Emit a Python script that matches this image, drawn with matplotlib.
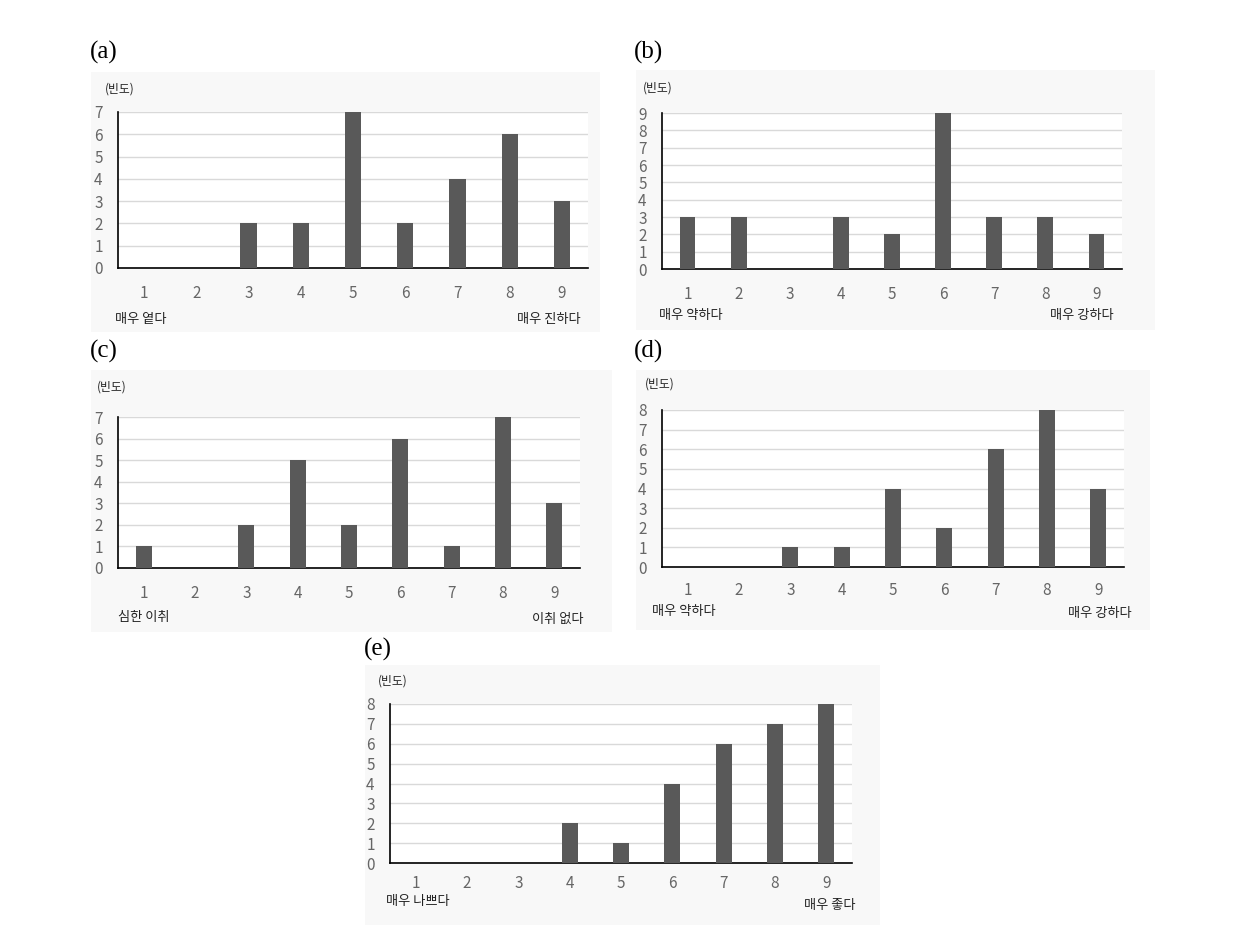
import matplotlib
matplotlib.use("Agg")
import matplotlib.pyplot as plt
from matplotlib.patches import Rectangle

plt.rcParams['font.family'] = ['Noto Sans CJK KR', 'DejaVu Sans']

W, H = 1245, 932

# data (frequency of each score 1..9)
scores = [1, 2, 3, 4, 5, 6, 7, 8, 9]
freq_a = [0, 0, 2, 2, 7, 2, 4, 6, 3]
freq_b = [3, 3, 0, 3, 2, 9, 3, 3, 2]
freq_c = [1, 0, 2, 5, 2, 6, 1, 7, 3]
freq_d = [0, 0, 1, 1, 4, 2, 6, 8, 4]
freq_e = [0, 0, 0, 2, 1, 4, 6, 7, 8]

panel_names = ["(a)", "(b)", "(c)", "(d)", "(e)"]
low_labels = ["매우 옅다", "매우 약하다", "심한 이취", "매우 약하다", "매우 나쁘다"]
high_labels = ["매우 진하다", "매우 강하다", "이취 없다", "매우 강하다", "매우 좋다"]
y_label = "(빈도)"

# layout in pixels: axes box (left, top, right, bottom), panel label, y label,
# low/high label positions, background box, x tick pad
panels = [
    dict(data=freq_a, ymax=7, box=(118, 112, 588, 268), name=(90, 52), ylab=(105, 89),
         low=(115, 319), high=(581, 319), bg=(91, 72, 600, 332), pad=12),
    dict(data=freq_b, ymax=9, box=(662, 113, 1122, 269), name=(634, 52), ylab=(643, 88),
         low=(659, 315), high=(1114, 316), bg=(636, 70, 1155, 330), pad=12),
    dict(data=freq_c, ymax=7, box=(118, 417, 580, 568), name=(90, 351), ylab=(97, 387),
         low=(118, 617), high=(583, 619), bg=(91, 370, 612, 632), pad=12),
    dict(data=freq_d, ymax=8, box=(662, 410, 1124, 567), name=(634, 351), ylab=(645, 384),
         low=(652, 612), high=(1132, 613), bg=(636, 370, 1150, 630), pad=11),
    dict(data=freq_e, ymax=8, box=(390, 704, 852, 863), name=(364, 649), ylab=(378, 681),
         low=(386, 902), high=(856, 906), bg=(365, 665, 880, 925), pad=9),
]


def fx(x):
    return x / W


def fy(y):
    return 1 - y / H


fig = plt.figure(figsize=(W / 100, H / 100), dpi=100)
fig.patch.set_facecolor("white")

for i, p in enumerate(panels):
    # faint grey chart area behind each panel
    bx0, by0, bx1, by1 = p["bg"]
    fig.patches.append(Rectangle((fx(bx0), fy(by1)), fx(bx1 - bx0), (by1 - by0) / H,
                                 transform=fig.transFigure, facecolor="#f8f8f8",
                                 edgecolor="none", zorder=-5))

    l, t, r, b = p["box"]
    ax = fig.add_axes([fx(l), fy(b), fx(r - l), (b - t) / H])
    ax.set_facecolor("white")
    ax.bar(scores, p["data"], width=0.31, color="#595959", zorder=3)
    ax.set_xlim(0.5, 9.5)
    ax.set_ylim(0, p["ymax"])
    ax.set_yticks(range(0, p["ymax"] + 1))
    ax.set_xticks(scores)
    ax.grid(axis="y", color="#d9d9d9", linewidth=1, zorder=0)
    ax.set_axisbelow(True)
    for s in ["top", "right"]:
        ax.spines[s].set_visible(False)
    ax.spines["left"].set_color("black")
    ax.spines["bottom"].set_color("black")
    ax.spines["left"].set_linewidth(1.2)
    ax.spines["bottom"].set_linewidth(1.2)
    ax.tick_params(length=0, labelsize=11, colors="#666666")
    ax.tick_params(axis="x", pad=p["pad"])
    ax.tick_params(axis="y", pad=11)

    fig.text(fx(p["name"][0]), fy(p["name"][1]), panel_names[i], fontsize=18,
             family="Liberation Serif", va="center", ha="left")
    fig.text(fx(p["ylab"][0]), fy(p["ylab"][1]), y_label, fontsize=8.5,
             va="center", ha="left", color="#222222")
    fig.text(fx(p["low"][0]), fy(p["low"][1]), low_labels[i], fontsize=9.5,
             va="center", ha="left", color="#222222")
    fig.text(fx(p["high"][0]), fy(p["high"][1]), high_labels[i], fontsize=9.5,
             va="center", ha="right", color="#222222")

fig.savefig("out.png", dpi=100)
